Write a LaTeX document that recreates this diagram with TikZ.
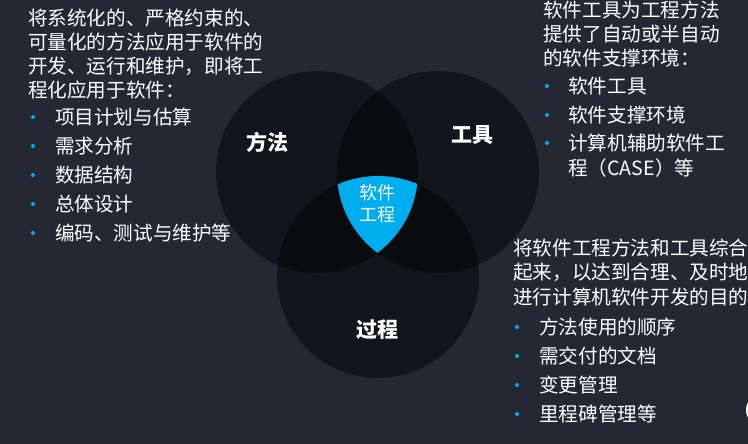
\documentclass[tikz,border=0pt]{standalone}
\usepackage{fontspec}
\setmainfont{Noto Sans CJK SC}
\definecolor{bg}{HTML}{232833}
\definecolor{cy}{HTML}{00ADEF}
\begin{document}
\begin{tikzpicture}[x=1pt,y=-1pt,
  txt/.style={anchor=west,text=white,inner sep=0pt,font=\fontsize{19.6}{24}\selectfont},
  dot/.style={circle,fill=cy,inner sep=0pt,minimum size=4pt},
  lab/.style={text=white,font=\fontsize{21}{24}\selectfont\bfseries},
  venn/.style={fill=black,fill opacity=0.46}]
\fill[bg] (0,0) rectangle (748,444);
\useasboundingbox (0,0) rectangle (748,444);
\fill[venn] (317,172) circle (101);
\fill[venn] (438,172) circle (101);
\fill[venn] (378,277) circle (101);
\begin{scope}
\clip (317,172) circle (101);
\clip (438,172) circle (101);
\fill[cy] (378,277) circle (101);
\end{scope}
\node[text=white,font=\fontsize{18}{22}\selectfont,align=center] (c) at (377,204) {软件\\工程};
\node[lab] (m) at (267,142) {方法};
\node[lab] (t) at (472,135) {工具};
\node[lab] (p) at (377,330) {过程};
\fill[white] (762,410) circle (16);
% left
\node[txt] (l1) at (28,18) {将系统化的、严格约束的、};
\node[txt] (l2) at (28,42) {可量化的方法应用于软件的};
\node[txt] (l3) at (28,66) {开发、运行和维护，即将工};
\node[txt] (l4) at (28,90) {程化应用于软件：};
\foreach \t [count=\i] in {项目计划与估算,需求分析,数据结构,总体设计,编码、测试与维护等}{
  \node[dot] (ld\i) at (33,88+29*\i) {};
  \node[txt] (lb\i) at (55,88+29*\i) {\t};}
% right top
\node[txt] (r1) at (543,10) {软件工具为工程方法};
\node[txt] (r2) at (543,34) {提供了自动或半自动};
\node[txt] (r3) at (543,58) {的软件支撑环境：};
\node[dot] (rd1) at (547,86) {};
\node[txt] (rb1) at (568,86) {软件工具};
\node[dot] (rd2) at (547,115) {};
\node[txt] (rb2) at (568,115) {软件支撑环境};
\node[dot] (rd3) at (547,143) {};
\node[txt] (rb3) at (568,143) {计算机辅助软件工};
\node[txt] (rb4) at (568,168) {程（CASE）等};
% bottom right
\node[txt] (b1) at (513,248) {将软件工程方法和工具综合};
\node[txt] (b2) at (513,272) {起来，以达到合理、及时地};
\node[txt] (b3) at (513,297) {进行计算机软件开发的目的};
\foreach \t [count=\i] in {方法使用的顺序,需交付的文档,变更管理,里程碑管理等}{
  \node[dot] (bd\i) at (517,298+29*\i) {};
  \node[txt] (bb\i) at (539,298+29*\i) {\t};}
\end{tikzpicture}
\end{document}
